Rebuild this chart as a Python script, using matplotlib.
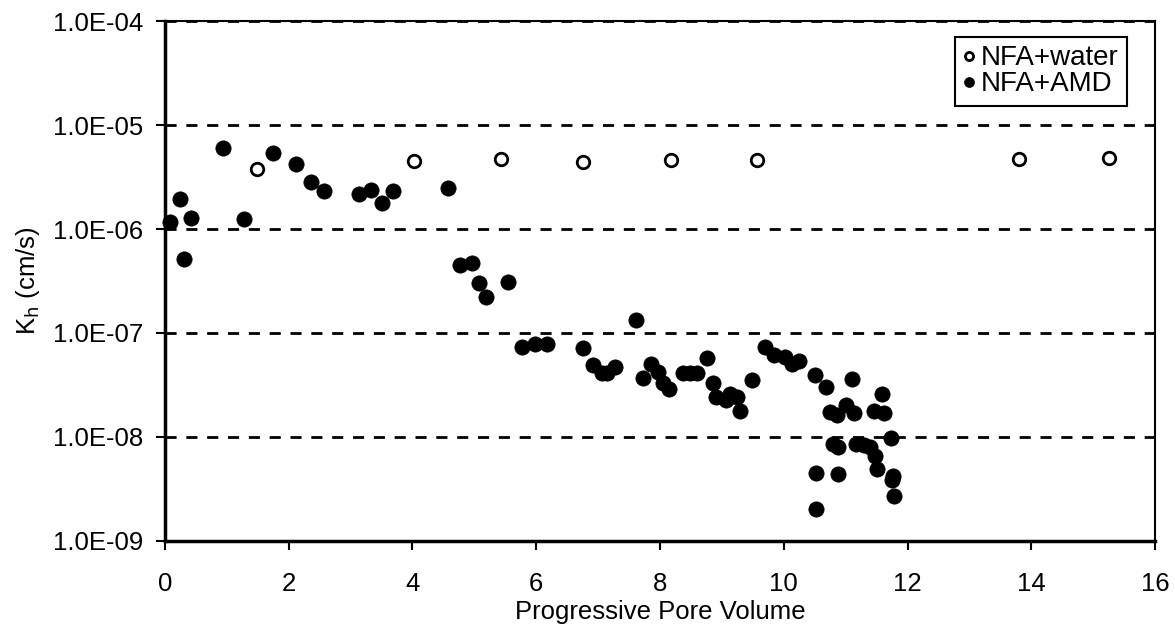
import matplotlib
matplotlib.use("Agg")
import matplotlib.pyplot as plt
from matplotlib.ticker import FixedLocator, FuncFormatter, NullLocator

plt.rcParams['font.family'] = ['Liberation Sans', 'DejaVu Sans']

# NFA + water (open circles)
water_pv = [1.48, 4.02, 5.43, 6.76, 8.17, 9.57, 13.80, 15.25]
water_k = [3.8e-6, 4.5e-6, 4.7e-6, 4.4e-6, 4.6e-6, 4.6e-6, 4.7e-6, 4.8e-6]

# NFA + AMD (filled circles)
amd_pv = [0.08, 0.25, 0.31, 0.42, 0.94, 1.27, 1.74, 2.11, 2.36, 2.57,
          3.14, 3.33, 3.50, 3.69, 4.58, 4.76, 4.96, 5.08, 5.18, 5.55,
          5.77, 5.98, 6.18, 6.76, 6.92, 7.06, 7.14, 7.28, 7.61, 7.72,
          7.86, 7.97, 8.05, 8.15, 8.37, 8.49, 8.59, 8.76, 8.85, 8.90,
          9.07, 9.13, 9.24, 9.29, 9.49, 9.69, 9.84, 10.02, 10.14, 10.25,
          10.51, 10.68, 10.74, 10.86, 11.00, 11.10, 11.14, 11.46, 11.58, 11.62,
          10.80, 10.87, 11.16, 11.29, 11.39, 11.48, 11.50, 11.73, 11.76, 11.75,
          11.78, 10.52, 10.88, 10.52]
amd_k = [1.16e-6, 1.93e-6, 5.2e-7, 1.29e-6, 5.97e-6, 1.25e-6, 5.38e-6, 4.22e-6, 2.81e-6, 2.32e-6,
         2.15e-6, 2.37e-6, 1.79e-6, 2.32e-6, 2.50e-6, 4.48e-7, 4.71e-7, 3.03e-7, 2.20e-7, 3.12e-7,
         7.4e-8, 7.8e-8, 7.8e-8, 7.1e-8, 4.9e-8, 4.1e-8, 4.1e-8, 4.7e-8, 1.33e-7, 3.7e-8,
         5.0e-8, 4.25e-8, 3.3e-8, 2.9e-8, 4.1e-8, 4.1e-8, 4.1e-8, 5.7e-8, 3.3e-8, 2.45e-8,
         2.27e-8, 2.57e-8, 2.4e-8, 1.78e-8, 3.55e-8, 7.4e-8, 6.1e-8, 5.9e-8, 5.0e-8, 5.4e-8,
         3.95e-8, 3.05e-8, 1.73e-8, 1.63e-8, 2.05e-8, 3.65e-8, 1.69e-8, 1.79e-8, 2.57e-8, 1.7e-8,
         8.6e-9, 8.1e-9, 8.5e-9, 8.4e-9, 8.1e-9, 6.6e-9, 4.9e-9, 9.7e-9, 4.2e-9, 3.9e-9,
         2.7e-9, 4.5e-9, 4.4e-9, 2.03e-9]

yticks = [1e-9, 1e-8, 1e-7, 1e-6, 1e-5, 1e-4]

fig = plt.figure(figsize=(11.75, 6.39), dpi=100)
ax = fig.add_axes([0.1404, 0.1534, 0.8426, 0.8137])

ax.set_yscale('log')
ax.set_xlim(0, 16)
ax.set_ylim(1e-9, 1e-4)

# dashed gridlines at each decade
for yv in yticks[1:]:
    ax.axhline(yv, color='black', lw=2, ls=(0, (4, 3.5)), zorder=1)

ax.plot(water_pv, water_k, 'o', ms=9, mfc='white', mec='black', mew=2,
        ls='none', label='NFA+water', zorder=3, clip_on=False)
ax.plot(amd_pv, amd_k, 'o', ms=11, mfc='black', mec='black', mew=0.5,
        ls='none', label='NFA+AMD', zorder=3, clip_on=False)

ax.xaxis.set_major_locator(FixedLocator(range(0, 17, 2)))
ax.yaxis.set_major_locator(FixedLocator(yticks))
ax.yaxis.set_minor_locator(NullLocator())
ax.yaxis.set_major_formatter(FuncFormatter(lambda v, p: '%.1E' % v))

ax.tick_params(axis='both', direction='out', length=6.5, width=1.5,
               labelsize=18.5, colors='black')
ax.tick_params(axis='x', pad=15.5)
ax.tick_params(axis='y', pad=9.4)

for s in ax.spines.values():
    s.set_linewidth(1.5)
    s.set_color('black')
ax.spines['left'].set_linewidth(2.5)
ax.spines['bottom'].set_linewidth(2.5)

ax.set_xlabel('Progressive Pore Volume', fontsize=18.5, labelpad=3)
ax.set_ylabel('K$_\\mathrm{h}$ (cm/s)', fontsize=18.5, labelpad=8)

leg = ax.legend(loc='upper right', bbox_to_anchor=(0.9717, 0.969), fontsize=20,
                frameon=True, fancybox=False, framealpha=1, edgecolor='black',
                handlelength=0.45, handletextpad=0.2, borderpad=0.3,
                labelspacing=0.0, markerscale=0.65, borderaxespad=0)
leg.get_frame().set_linewidth(1.5)

fig.savefig('out.png', dpi=100)
